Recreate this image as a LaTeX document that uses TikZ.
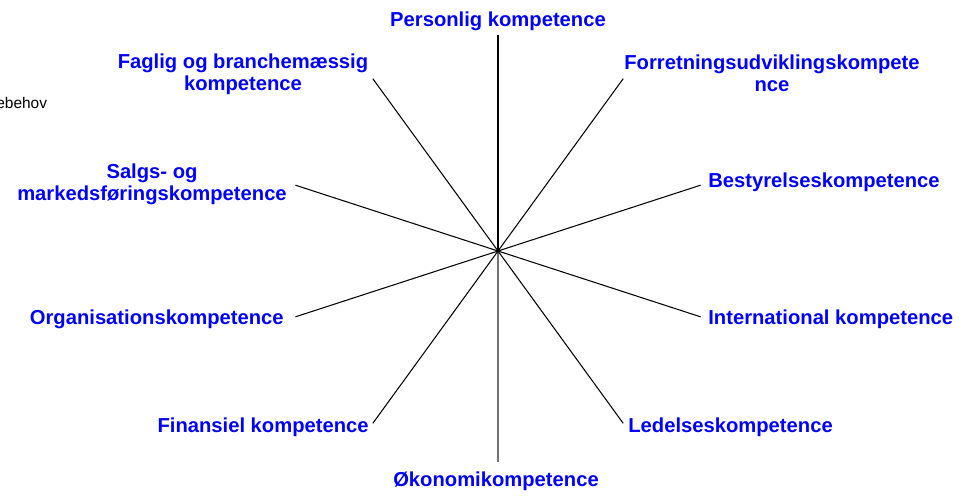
\documentclass[tikz,border=0pt]{standalone}
\usepackage{fontspec}
\setmainfont{Liberation Sans}
\usetikzlibrary{positioning}
\definecolor{kblue}{RGB}{0,0,255}

\begin{document}
\begin{tikzpicture}[
    x=0.02cm, y=0.02cm,
    lbl/.style={font=\fontsize{11.5}{12.6}\selectfont\bfseries, text=kblue, inner sep=0pt, align=center},
    spoke/.style={line width=0.6pt, black}
]
\useasboundingbox (0,0) rectangle (979,495);
\coordinate (c) at (498,244);
\coordinate (top) at (498,460);
\coordinate (bot) at (498,33);
\foreach \a [count=\i] in {54,18,-18,-54,-126,-162,162,126}
    \path (c) ++(\a:213) coordinate (p\i);

\draw[spoke, line width=0.9pt] (c) -- (top);
\draw[spoke, line width=0.9pt, black!55] (c) -- (bot);
\foreach \i in {1,...,8}
    \draw[spoke] (c) -- (p\i);

\node[lbl, anchor=base] (pers) at (498,469) {Personlig kompetence};
\node[lbl] (forr) at (772,421.5) {Forretningsudviklingskompete\\nce};
\node[lbl] (fagl) at (243,420.5) {Faglig og branchemæssig\\kompetence};
\node[lbl] (salg) at (152,311) {Salgs- og\\markedsføringskompetence};
\node[lbl, anchor=base west] (best) at (708,308) {Bestyrelseskompetence};
\node[lbl, anchor=base east] (orga) at (284,171) {Organisationskompetence};
\node[lbl, anchor=base west] (inter) at (708,171) {International kompetence};
\node[lbl, anchor=base east] (fina) at (369,63) {Finansiel kompetence};
\node[lbl, anchor=base west] (lede) at (628,63) {Ledelseskompetence};
\node[lbl, anchor=base] (oeko) at (496,9) {Økonomikompetence};
\node[anchor=base west, font=\fontsize{8.8}{9}\selectfont, inner sep=0pt] (behov) at (-4,387) {ebehov};
\end{tikzpicture}
\end{document}
